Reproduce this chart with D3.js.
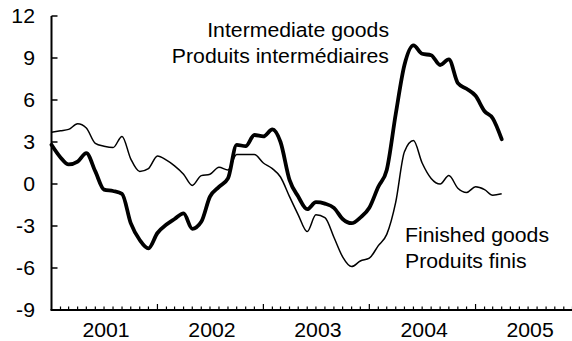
<!DOCTYPE html>
<html>
<head>
<meta charset="utf-8">
<script src="https://cdn.jsdelivr.net/npm/d3@7"></script>
<style>
  html, body { margin: 0; padding: 0; background: #fff; }
  svg { display: block; font-family: "Liberation Sans", Arial, Helvetica, sans-serif; }
</style>
</head>
<body>
<svg id="chart" width="572" height="341"></svg>
<script>
// Monthly observations, January 2001 to April 2005 (year-over-year % change)
const startMonth = "2001-01";
const intermediateGoods = [
  2.8, 1.9, 1.4, 1.6, 2.2, 0.9, -0.4, -0.5, -0.7, -2.8, -4.0, -4.6,
  -3.5, -2.9, -2.5, -2.1, -3.2, -2.7, -0.9, -0.2, 0.4, 2.8, 2.7, 3.5,
  3.4, 3.9, 3.0, 0.3, -0.9, -1.8, -1.3, -1.4, -1.7, -2.5, -2.8, -2.4,
  -1.7, -0.2, 1.0, 5.0, 8.5, 9.9, 9.3, 9.2, 8.5, 8.9, 7.2, 6.8,
  6.3, 5.2, 4.7, 3.2
];
const finishedGoods = [
  3.7, 3.8, 3.9, 4.3, 4.0, 2.9, 2.7, 2.6, 3.4, 1.8, 0.9, 1.1,
  2.0, 1.7, 1.3, 0.7, -0.1, 0.6, 0.7, 1.2, 1.0, 2.1, 2.1, 2.1,
  1.5, 1.1, 0.5, -0.9, -2.2, -3.4, -2.2, -2.4, -3.8, -5.2, -5.9, -5.5,
  -5.3, -4.4, -3.6, -1.3, 2.3, 3.1, 1.5, 0.4, 0.0, 0.6, -0.3, -0.6,
  -0.2, -0.4, -0.8, -0.7
];
const yTicks = [-9, -6, -3, 0, 3, 6, 9, 12];
const yearLabels = ["2001", "2002", "2003", "2004", "2005"];
const intermediateLabel = ["Intermediate goods", "Produits intermédiaires"];
const finishedLabel = ["Finished goods", "Produits finis"];

const svg = d3.select("#chart");
const parseMonth = d3.utcParse("%Y-%m");
const t0 = parseMonth(startMonth);
const dates = intermediateGoods.map((_, i) => d3.utcMonth.offset(t0, i));

const x = d3.scaleUtc()
  .domain([t0, d3.utcMonth.offset(t0, 59)])
  .range([51.5, 572.5]);
const y = d3.scaleLinear().domain([-9, 12]).range([310, 16]);

const fontSize = 19.5;
const stretch = 1.09; // the typeface is set slightly wide

// place text at (px, py) with a horizontal stretch
function place(sel, px, py) {
  sel.attr("x", 0).attr("y", 0)
    .attr("transform", (d, i) => `translate(${px(d, i)},${py(d, i)}) scale(${stretch},1)`);
}

// y axis: line with inward ticks, labels on the left
const yAxis = svg.append("g");
yAxis.append("line")
  .attr("x1", x.range()[0]).attr("x2", x.range()[0])
  .attr("y1", y(12)).attr("y2", y(-9))
  .attr("stroke", "#000").attr("stroke-width", 2);
yAxis.selectAll("line.tick").data(yTicks).join("line")
  .attr("class", "tick")
  .attr("x1", x.range()[0]).attr("x2", x.range()[0] + 6)
  .attr("y1", d => y(d)).attr("y2", d => y(d))
  .attr("stroke", "#000").attr("stroke-width", 1.5);
yAxis.selectAll("text").data(yTicks).join("text")
  .attr("dy", "0.35em")
  .attr("text-anchor", "end")
  .attr("font-size", fontSize)
  .text(d => d)
  .call(place, () => 35, d => y(d));

// x axis: monthly minor ticks, longer ticks at year starts
const xAxis = svg.append("g");
const months = d3.utcMonth.range(t0, d3.utcMonth.offset(t0, 60));
xAxis.append("line")
  .attr("x1", x.range()[0] - 1).attr("x2", 572)
  .attr("y1", y(-9)).attr("y2", y(-9))
  .attr("stroke", "#000").attr("stroke-width", 2);
xAxis.selectAll("line.tick").data(months.slice(1)).join("line")
  .attr("class", "tick")
  .attr("x1", d => x(d)).attr("x2", d => x(d))
  .attr("y1", y(-9))
  .attr("y2", d => y(-9) - (d.getUTCMonth() === 0 ? 6 : 3.5))
  .attr("stroke", "#000").attr("stroke-width", 1.2);
xAxis.selectAll("text").data(yearLabels).join("text")
  .attr("text-anchor", "middle")
  .attr("font-size", fontSize)
  .text(d => d)
  .call(place, d => x(d3.utcMonth.offset(parseMonth(d + "-01"), 6)) + 2, () => 337);

// series lines
const line = d3.line()
  .x((d, i) => x(dates[i]))
  .y(d => y(d))
  .curve(d3.curveMonotoneX);

svg.append("path")
  .datum(finishedGoods)
  .attr("d", line)
  .attr("fill", "none")
  .attr("stroke", "#000")
  .attr("stroke-width", 1.5)
  .attr("stroke-linejoin", "round");

svg.append("path")
  .datum(intermediateGoods)
  .attr("d", line)
  .attr("fill", "none")
  .attr("stroke", "#000")
  .attr("stroke-width", 3.8)
  .attr("stroke-linejoin", "round")
  .attr("stroke-linecap", "round");

// series labels
svg.append("g").selectAll("text").data(intermediateLabel).join("text")
  .attr("text-anchor", "end")
  .attr("font-size", fontSize)
  .text(d => d)
  .call(place, () => 389, (d, i) => 37 + i * 26);

svg.append("g").selectAll("text").data(finishedLabel).join("text")
  .attr("text-anchor", "start")
  .attr("font-size", fontSize)
  .text(d => d)
  .call(place, () => 405, (d, i) => 242 + i * 25.5);
</script>
</body>
</html>
